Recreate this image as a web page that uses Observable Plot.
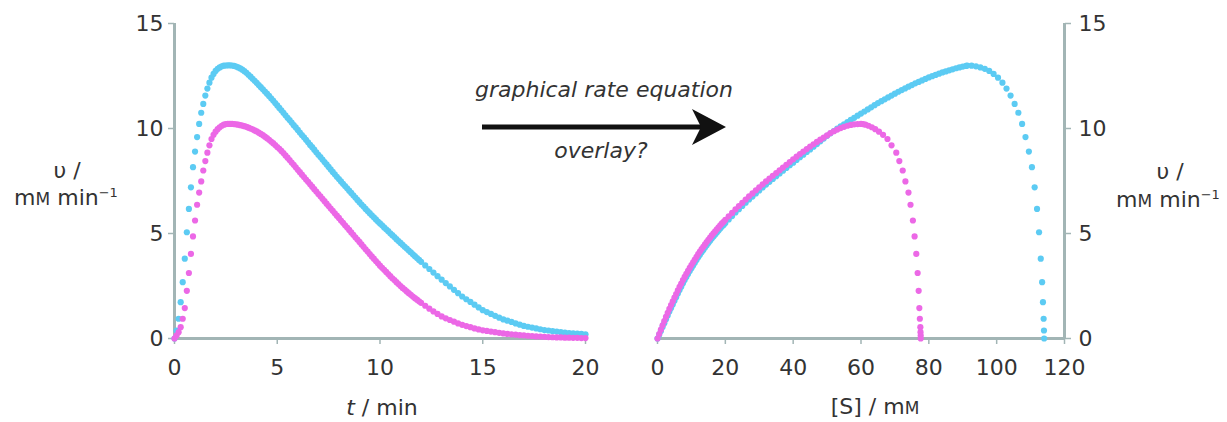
<!DOCTYPE html>
<html><head><meta charset="utf-8">
<script src="https://cdn.jsdelivr.net/npm/d3@7"></script>
<script src="https://cdn.jsdelivr.net/npm/@observablehq/plot@0.6"></script>
<style>
html,body{margin:0;padding:0;background:#fff;}
#wrap{position:relative;width:1227px;height:422px;overflow:hidden;background:#fff;}
#left,#right{position:absolute;top:0;}
#left{left:0px;}
#right{left:600px;}
#overlay{position:absolute;left:0;top:0;pointer-events:none;}
</style></head><body>
<div id="wrap"><div id="left"></div><div id="right"></div>
<svg id="overlay" width="1227" height="422" font-family="DejaVu Sans, sans-serif" font-size="22" fill="#333">
  <text x="604" y="97" text-anchor="middle" font-style="italic">graphical rate equation</text>
  <text x="601" y="158" text-anchor="middle" font-style="italic">overlay?</text>
  <line x1="482" y1="127" x2="708" y2="127" stroke="#111" stroke-width="5"/>
  <path d="M726,127 L692,109 L701,127 L692,145 Z" fill="#111"/>
  <text x="67" y="178" text-anchor="middle">υ /</text>
  <text x="66" y="205" text-anchor="middle">m<tspan font-size="17">M</tspan> min<tspan font-size="13" dy="-8">−1</tspan></text>
  <text x="1170" y="179" text-anchor="middle">υ /</text>
  <text x="1168" y="207" text-anchor="middle">m<tspan font-size="17">M</tspan> min<tspan font-size="13" dy="-8">−1</tspan></text>
  <text x="382" y="415" text-anchor="middle"><tspan font-style="italic">t</tspan> / min</text>
  <text x="875" y="414" text-anchor="middle">[S] / m<tspan font-size="17">M</tspan></text>
</svg>
</div>
<script>
// ---- tick labels ----
const yTicks = [0, 5, 10, 15];
const xTicksTime = [0, 5, 10, 15, 20];
const xTicksSubstrate = [0, 20, 40, 60, 80, 100, 120];

// ---- left panel: rate vs time (min) ----
const timeMin = [0,0.1,0.2,0.3,0.4,0.5,0.6,0.7,0.8,0.9,1,1.1,1.2,1.3,1.4,1.5,1.6,1.7,1.8,1.9,2,2.1,2.2,2.3,2.4,2.5,2.6,2.7,2.8,2.9,3,
3.1,3.2,3.3,3.4,3.5,3.6,3.7,3.8,3.9,4,4.1,4.2,4.3,4.4,4.5,4.6,4.7,4.8,4.9,5,
5.1,5.2,5.3,5.4,5.5,5.6,5.7,5.8,5.9,6,6.1,6.2,6.3,6.4,6.5,6.6,6.7,6.8,6.9,7,
7.1,7.2,7.3,7.4,7.5,7.6,7.7,7.8,7.9,8,8.1,8.2,8.3,8.4,8.5,8.6,8.7,8.8,8.9,9,
9.1,9.2,9.3,9.4,9.5,9.6,9.7,9.8,9.9,10,10.1,10.2,10.3,10.4,10.5,10.6,10.7,10.8,10.9,11,
11.1,11.2,11.3,11.4,11.5,11.6,11.7,11.8,11.9,12,
12.2,12.4,12.6,12.8,13,13.2,13.4,13.6,13.8,14,14.2,14.4,14.6,14.8,15,15.2,15.4,15.6,15.8,16,
16.2,16.4,16.6,16.8,17,17.2,17.4,17.6,17.8,18,18.2,18.4,18.6,18.8,19,19.2,19.4,19.6,19.8,20];

const rateCyanTime = [0,0.38,0.94,1.73,2.68,3.8,5.06,6.17,7.2,8.16,8.9,9.59,10.22,10.75,11.17,11.57,11.9,12.18,12.42,12.6,12.74,12.84,12.91,12.96,12.99,13.0,13.01,13.01,13.0,12.98,12.95,
12.91,12.86,12.8,12.73,12.65,12.56,12.47,12.37,12.27,12.17,
12.07,11.97,11.87,11.76,11.66,11.55,11.44,11.33,11.21,11.1,
10.98,10.87,10.75,10.63,10.51,10.4,10.28,10.16,10.05,9.93,
9.81,9.69,9.58,9.46,9.34,9.22,9.11,8.99,8.87,8.75,
8.64,8.52,8.4,8.29,8.17,8.05,7.93,7.82,7.7,7.59,
7.48,7.37,7.26,7.15,7.04,6.93,6.82,6.71,6.6,6.49,
6.38,6.28,6.17,6.07,5.97,5.87,5.77,5.67,5.57,5.48,
5.39,5.29,5.2,5.11,5.01,4.92,4.83,4.73,4.64,4.55,
4.46,4.37,4.28,4.19,4.1,4.01,3.92,3.83,3.74,3.65,
3.48,3.31,3.14,2.97,2.8,2.64,2.48,2.32,2.16,2.0,
1.87,1.74,1.61,1.48,1.35,1.26,1.17,1.08,0.99,0.91,
0.85,0.79,0.72,0.66,0.6,0.56,0.52,0.48,0.44,0.4,
0.38,0.35,0.33,0.3,0.28,0.26,0.25,0.23,0.22,0.2];

const rateMagentaTime = [0,0.14,0.3,0.54,0.94,1.45,2.27,3.12,4.03,4.86,5.62,6.37,6.95,7.48,8.0,8.45,8.85,9.2,9.5,9.7,9.85,9.97,10.06,10.13,10.18,10.21,10.22,10.22,10.22,10.21,10.2,
10.18,10.16,10.14,10.11,10.08,10.04,10.0,9.96,9.91,9.86,
9.8,9.74,9.68,9.61,9.54,9.46,9.38,9.3,9.21,9.12,
9.03,8.93,8.83,8.72,8.61,8.5,8.38,8.27,8.15,8.03,
7.92,7.8,7.69,7.57,7.46,7.34,7.23,7.11,7.0,6.88,
6.77,6.65,6.54,6.42,6.31,6.19,6.08,5.96,5.85,5.74,
5.62,5.51,5.39,5.28,5.17,5.05,4.94,4.82,4.71,4.6,
4.48,4.37,4.25,4.14,4.02,3.91,3.8,3.69,3.58,3.47,
3.37,3.27,3.17,3.07,2.97,2.87,2.78,2.68,2.59,2.5,
2.41,2.33,2.24,2.16,2.08,2.0,1.92,1.85,1.77,1.7,
1.56,1.42,1.29,1.17,1.05,0.96,0.88,0.8,0.72,0.65,
0.59,0.54,0.48,0.43,0.39,0.36,0.33,0.3,0.27,0.24,
0.22,0.2,0.18,0.16,0.15,0.13,0.12,0.1,0.09,0.08,
0.07,0.06,0.05,0.05,0.04,0.04,0.03,0.03,0.02,0.02];

// ---- right panel: rate vs [S] (mM) ----
const substrateCyan = [0,0.5,1,1.5,2,2.5,3,3.5,4,4.5,5,5.5,6,6.5,7,7.5,8,8.5,9,9.5,10,10.5,11,11.5,12,12.5,13,13.5,14,14.5,15,15.5,16,16.5,17,17.5,18,18.5,19,19.5,20,
21,22,23,24,25,26,27,28,29,30,31,32,33,34,35,36,37,38,39,40,41,42,43,44,45,46,47,48,49,50,
51,52,53,54,55,56,57,58,59,60,61,62,63,64,65,66,67,68,69,70,71,72,73,74,75,76,77,78,79,80,
81,82,83,84,85,86,87,88,89,90,91,
91.3,92.6,93.9,95.2,96.5,97.8,99.1,100.4,101.7,102.9,104.1,105.3,106.4,107.5,108.5,109.5,110.4,111.2,111.9,112.5,113.0,113.4,113.65,113.85,113.95,114.0];
const rateCyanSubstrate = [0,0.18,0.36,0.55,0.73,0.92,1.1,1.28,1.45,1.62,1.8,1.97,2.14,2.31,2.47,2.63,2.78,
2.93,3.07,3.21,3.35,3.48,3.61,3.74,3.87,3.99,4.11,
4.22,4.33,4.44,4.55,4.65,4.76,4.86,4.95,5.05,5.14,
5.24,5.33,5.41,5.5,
5.67,5.83,6.0,6.16,6.31,6.47,6.62,6.76,6.91,7.05,
7.19,7.33,7.46,7.6,7.73,7.86,7.99,8.12,8.25,8.37,
8.5,8.63,8.75,8.88,9.0,9.13,9.26,9.39,9.52,9.65,
9.77,9.88,9.99,10.1,10.2,10.31,10.41,10.51,10.61,10.71,
10.81,10.91,11.01,11.11,11.21,11.3,11.39,11.48,11.57,11.66,
11.75,11.83,11.91,11.99,12.07,12.15,12.22,12.29,12.36,12.43,
12.49,12.55,12.61,12.67,12.72,12.77,12.82,12.87,12.91,12.95,12.98,
13.0,12.99,12.96,12.91,12.84,12.74,12.6,12.42,12.18,11.9,11.57,11.17,10.75,10.22,9.59,8.9,8.16,7.2,6.17,5.06,3.8,2.68,1.73,0.94,0.38,0];

const substrateMagenta = [0,0.5,1,1.5,2,2.5,3,3.5,4,4.5,5,5.5,6,6.5,7,7.5,8,8.5,9,9.5,10,10.5,11,11.5,12,12.5,13,13.5,14,14.5,15,15.5,16,16.5,17,17.5,18,18.5,19,19.5,20,
21,22,23,24,25,26,27,28,29,30,31,32,33,34,35,36,37,38,39,40,41,42,43,44,45,46,47,48,49,50,
51,52,53,54,55,56,57,58,59,60,
60.6,61.3,62.2,63.2,64.2,65.3,66.5,67.8,69.0,70.4,71.3,72.3,73.1,74.0,74.6,75.3,75.8,76.3,76.7,77.0,77.2,77.35,77.5,77.55,77.6,77.6];
const rateMagentaSubstrate = [0,0.21,0.42,0.63,0.83,1.03,1.22,1.41,1.59,1.77,1.95,2.12,2.29,2.46,2.62,2.78,2.93,
3.08,3.22,3.36,3.5,3.63,3.76,3.89,4.02,4.14,4.26,
4.37,4.48,4.59,4.7,4.8,4.91,5.01,5.1,5.2,5.29,
5.39,5.48,5.56,5.65,
5.82,5.98,6.15,6.31,6.46,6.62,6.77,6.91,7.06,7.2,
7.34,7.48,7.61,7.75,7.88,8.01,8.14,8.27,8.4,8.53,
8.66,8.78,8.9,9.02,9.14,9.25,9.36,9.47,9.57,9.67,
9.78,9.87,9.95,10.02,10.08,10.13,10.17,10.2,10.21,10.22,
10.21,10.18,10.13,10.06,9.97,9.85,9.7,9.5,9.2,8.85,8.45,8.0,7.48,6.95,6.37,5.62,4.86,4.03,3.12,2.27,1.45,0.94,0.54,0.3,0.14,0];

// ---- styling ----
const cyanColor = "#5ccbf3";
const magentaColor = "#ec68e6";
const axisColor = "#a2b5b5";
const textColor = "#333333";

const zip = (xs, ys) => xs.map((x, i) => ({x, y: ys[i]}));
const leftCyan = zip(timeMin, rateCyanTime);
const leftMagenta = zip(timeMin, rateMagentaTime);
const rightCyan = zip(substrateCyan, rateCyanSubstrate);
const rightMagenta = zip(substrateMagenta, rateMagentaSubstrate);

const style = {fontFamily: "DejaVu Sans, sans-serif", fontSize: "22px", color: textColor, background: "transparent", overflow: "visible"};
const dotR = 3.1;

const leftPlot = Plot.plot({
  width: 600, height: 422,
  marginLeft: 174, marginRight: 15, marginTop: 23, marginBottom: 84,
  x: {domain: [0, 20], label: null},
  y: {domain: [0, 15], label: null},
  style,
  marks: [
    Plot.axisY({ticks: yTicks, tickSize: 6, tickPadding: 5, stroke: axisColor, strokeWidth: 1.5, fill: textColor, label: null}),
    Plot.axisX({ticks: xTicksTime, tickSize: 6, tickPadding: 15, stroke: axisColor, strokeWidth: 1.5, fill: textColor, label: null}),
    Plot.ruleX([0], {stroke: axisColor, strokeWidth: 3}),
    Plot.ruleY([0], {stroke: axisColor, strokeWidth: 3}),
    Plot.dot(leftCyan, {x: "x", y: "y", r: dotR, fill: cyanColor, stroke: null}),
    Plot.dot(leftMagenta, {x: "x", y: "y", r: dotR, fill: magentaColor, stroke: null})
  ]
});
document.getElementById("left").append(leftPlot);

const rightPlot = Plot.plot({
  width: 627, height: 422,
  marginLeft: 57, marginRight: 163, marginTop: 23, marginBottom: 84,
  x: {domain: [0, 120], label: null},
  y: {domain: [0, 15], label: null},
  style,
  marks: [
    Plot.axisY({anchor: "right", ticks: yTicks, tickSize: 6, tickPadding: 8, stroke: axisColor, strokeWidth: 1.5, fill: textColor, label: null}),
    Plot.axisX({ticks: xTicksSubstrate, tickSize: 6, tickPadding: 15, stroke: axisColor, strokeWidth: 1.5, fill: textColor, label: null}),
    Plot.ruleX([120], {stroke: axisColor, strokeWidth: 3}),
    Plot.ruleY([0], {stroke: axisColor, strokeWidth: 3}),
    Plot.dot(rightCyan, {x: "x", y: "y", r: dotR, fill: cyanColor, stroke: null}),
    Plot.dot(rightMagenta, {x: "x", y: "y", r: dotR, fill: magentaColor, stroke: null})
  ]
});
document.getElementById("right").append(rightPlot);
</script>
</body></html>
